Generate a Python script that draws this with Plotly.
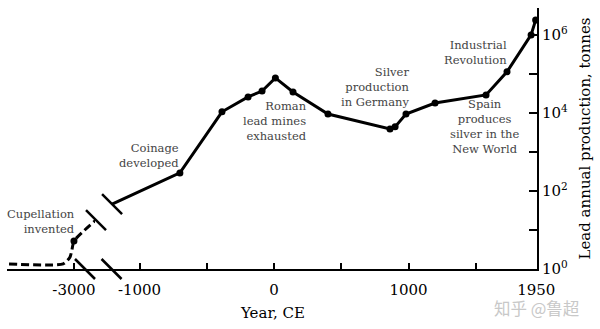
import math
import plotly.graph_objects as go

# ---- data ----
# early period (left, compressed part of the broken axis)
early_years = [-3483, -3080, -3030, -3015, -3000, -2836]
early_lead = [1.35, 1.35, 2.0, 3.1, 5.2, 18]
cupel_year = [-3000]
cupel_lead = [5.2]

# main period (right part of the broken axis)
main_years = [-1204, -700, -387, -193, -89, 10, 141, 401, 862, 900, 981, 1197, 1576, 1732, 1911, 1945]
main_lead = [46, 290, 10700, 25700, 36500, 79000, 34600, 9400, 3900, 4400, 9400, 18000, 29000, 113000, 1000000, 2400000]
main_marked = [False] + [True] * 15

left_tickvals = [-3000]
left_ticktext = ["-3000"]
right_tickvals = [-1000, -500, 0, 500, 1000, 1500, 1950]
right_ticktext = ["-1000", "", "0", "", "1000", "", "1950"]
y_tickvals = [1, 10, 100, 1000, 10000, 100000, 1000000]
y_ticktext = ["10<sup>0</sup>", "", "10<sup>2</sup>", "", "10<sup>4</sup>", "", "10<sup>6</sup>"]

FONT = "DejaVu Serif"
W, H = 600, 329
ML, MR, MT, MB = 7, 63, 8, 60
PW = W - ML - MR
PH = H - MT - MB
Y_RANGE = [0, 6.69]


def px_dom(a, b):
    return [(a - ML) / PW, (b - ML) / PW]


def y_to_paper(v):
    return (math.log10(v) - Y_RANGE[0]) / (Y_RANGE[1] - Y_RANGE[0])


fig = go.Figure()

fig.add_trace(go.Scatter(
    x=early_years, y=early_lead, xaxis="x", yaxis="y", mode="lines",
    line=dict(color="black", width=3, dash="8px,4px", shape="spline", smoothing=0.6),
    hoverinfo="skip", showlegend=False))
fig.add_trace(go.Scatter(
    x=cupel_year, y=cupel_lead, xaxis="x", yaxis="y", mode="markers",
    marker=dict(color="black", size=7), showlegend=False))
fig.add_trace(go.Scatter(
    x=main_years, y=main_lead, xaxis="x2", yaxis="y", mode="lines",
    line=dict(color="black", width=3), showlegend=False))
fig.add_trace(go.Scatter(
    x=[x for x, m in zip(main_years, main_marked) if m],
    y=[v for v, m in zip(main_lead, main_marked) if m],
    xaxis="x2", yaxis="y", mode="markers",
    marker=dict(color="black", size=7), showlegend=False))

axis_common = dict(showline=True, linecolor="black", linewidth=2, ticks="inside",
                   ticklen=6, tickcolor="black", tickwidth=1.5, showgrid=False,
                   zeroline=False, ticklabelstandoff=6,
                   tickfont=dict(family=FONT, size=15, color="black"))

fig.update_layout(
    width=W, height=H,
    margin=dict(l=ML, r=MR, t=MT, b=MB),
    paper_bgcolor="white", plot_bgcolor="white",
    font=dict(family=FONT, color="black"),
    xaxis=dict(domain=px_dom(7, 112), range=[-3498, -2717], anchor="y",
               tickvals=left_tickvals, ticktext=left_ticktext, **axis_common),
    xaxis2=dict(domain=px_dom(95, 537), range=[-1331, 1955], anchor="y",
                tickvals=right_tickvals, ticktext=right_ticktext, **axis_common),
    yaxis=dict(type="log", range=Y_RANGE, side="right", anchor="x2",
               showline=True, linecolor="black", linewidth=2, ticks="inside",
               ticklen=8, tickcolor="black", tickwidth=1.5, showgrid=False,
               zeroline=False, tickvals=y_tickvals, ticktext=y_ticktext,
               tickfont=dict(family=FONT, size=15, color="black"),
               title=dict(text="Lead annual production, tonnes",
                          font=dict(family=FONT, size=15, color="black"),
                          standoff=12)),
)

# break marks (axis and data line)
slash = dict(type="line", layer="above", line=dict(color="black", width=2.5),
             xsizemode="pixel", ysizemode="pixel", x0=-10, x1=10, y0=10, y1=-10)
fig.add_shape(xref="x", yref="paper", xanchor=-2918, yanchor=0, **slash)
fig.add_shape(xref="x2", yref="paper", xanchor=-1208, yanchor=0, **slash)
fig.add_shape(xref="x", yref="paper", xanchor=early_years[-1],
              yanchor=y_to_paper(early_lead[-1]), **slash)
fig.add_shape(xref="x2", yref="paper", xanchor=main_years[0],
              yanchor=y_to_paper(main_lead[0]), **slash)

note_font = dict(family=FONT, size=11.5, color="#444444")
notes = [
    ("x", -2978, 1.205, "Cupellation<br>invented", "right"),
    ("x2", -691, 2.92, "Coinage<br>developed", "right"),
    ("x2", 260, 3.795, "Roman<br>lead mines<br>exhausted", "right"),
    ("x2", 1019, 4.667, "Silver<br>production<br>in Germany", "right"),
    ("x2", 1747, 5.54, "Industrial<br>Revolution", "right"),
    ("x2", 1565, 3.64, "Spain<br>produces<br>silver in the<br>New World", "center"),
]
for xr, xv, yv, txt, al in notes:
    fig.add_annotation(xref=xr, yref="y", x=xv, y=yv, text=txt, showarrow=False,
                       xanchor=al, yanchor="middle", align=al, font=note_font)

fig.add_annotation(xref="paper", yref="paper", x=0.5, y=(269 - 313) / PH,
                   text="Year, CE", showarrow=False, xanchor="center", yanchor="middle",
                   font=dict(family=FONT, size=15, color="black"))
fig.add_annotation(xref="paper", yref="paper", x=(536 - ML) / PW, y=(269 - 308) / PH,
                   text="知乎 @鲁超", showarrow=False, xanchor="center", yanchor="middle",
                   font=dict(family="Noto Sans CJK SC", size=16.5, color="#c8c8c8"))

fig.write_html("out.html")
